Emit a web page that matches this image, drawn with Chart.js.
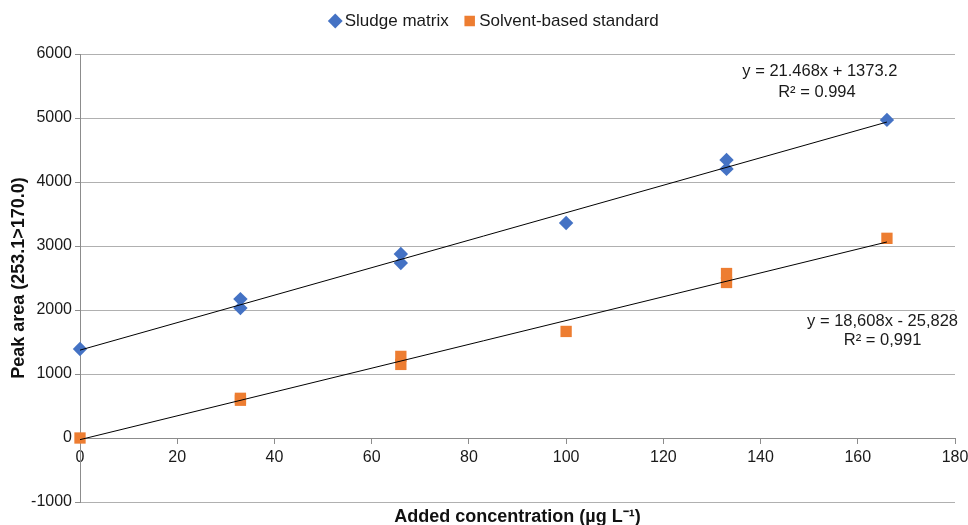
<!DOCTYPE html>
<html>
<head>
<meta charset="utf-8">
<script src="https://cdn.jsdelivr.net/npm/chart.js@4/dist/chart.umd.min.js"></script>
<style>
  html, body { margin: 0; padding: 0; background: #ffffff; }
  canvas { display: block; }
</style>
</head>
<body>
<canvas id="chart" width="968" height="525"></canvas>
<script>
// ---- data ----
const seriesNames = ['Sludge matrix', 'Solvent-based standard'];
const sludgeX   = [0, 33, 33, 66, 66, 100, 133, 133, 166];
const sludgeY   = [1390, 2170, 2030, 2875, 2735, 3360, 4345, 4205, 4970];
const solventX  = [0, 33, 33, 66, 66, 100, 133, 133, 166];
const solventY  = [0, 620, 590, 1275, 1150, 1665, 2570, 2430, 3120];
const trendX        = [0, 166];
const sludgeTrendY  = [1373.2, 4937.0];
const solventTrendY = [-25.8, 3063.1];
const xRange = [0, 180], xStep = 20;
const yRange = [-1000, 6000], yStep = 1000;
const sludgeEquation  = ['y = 21.468x + 1373.2', 'R² = 0.994'];
const solventEquation = ['y = 18,608x - 25,828', 'R² = 0,991'];
const xTitle = 'Added concentration (µg L⁻¹)';
const yTitle = 'Peak area (253.1>170.0)';

const FONT = '"Liberation Sans", Arial, Helvetica, sans-serif';
const toPts = (xs, ys) => xs.map((x, i) => ({ x: x, y: ys[i] }));
const plainNumber = (v) => String(v);

// equation labels, anchored in data coordinates
const eqPlugin = {
  id: 'equations',
  afterDatasetsDraw(chart, args, opts) {
    const { ctx } = chart;
    const xs = chart.scales.x, ys = chart.scales.y;
    ctx.save();
    ctx.font = opts.size + 'px ' + FONT;
    ctx.fillStyle = '#1a1a1a';
    ctx.textAlign = 'center';
    ctx.textBaseline = 'middle';
    opts.items.forEach(it => {
      ctx.fillText(it.text, xs.getPixelForValue(it.x), ys.getPixelForValue(it.y));
    });
    ctx.restore();
  }
};

new Chart(document.getElementById('chart'), {
  type: 'scatter',
  data: {
    datasets: [
      { label: 'trend1', data: toPts(trendX, sludgeTrendY), showLine: true,
        borderColor: '#000000', borderWidth: 1, pointRadius: 0, fill: false, order: 0, clip: false },
      { label: 'trend2', data: toPts(trendX, solventTrendY), showLine: true,
        borderColor: '#000000', borderWidth: 1, pointRadius: 0, fill: false, order: 0, clip: false },
      { label: seriesNames[0], data: toPts(sludgeX, sludgeY),
        pointStyle: 'rectRot', pointRadius: 7.2, borderWidth: 0, clip: false,
        backgroundColor: '#4472C4', borderColor: '#4472C4', order: 1 },
      { label: seriesNames[1], data: toPts(solventX, solventY),
        pointStyle: 'rect', pointRadius: 8, borderWidth: 0, clip: false,
        backgroundColor: '#ED7D31', borderColor: '#ED7D31', order: 2 }
    ]
  },
  options: {
    responsive: false,
    animation: false,
    devicePixelRatio: 1,
    layout: { padding: { top: -7.5, left: 0, right: -25, bottom: 0 } },
    plugins: {
      tooltip: { enabled: false },
      legend: {
        position: 'top',
        labels: {
          filter: (item) => item.datasetIndex >= 2,
          usePointStyle: true,
          boxWidth: 2,
          boxHeight: 10.5,
          padding: 20,
          color: '#1a1a1a',
          font: { family: FONT, size: 17 }
        }
      },
      equations: {
        size: 16.5,
        items: [
          { text: sludgeEquation[0],  x: 152.2, y: 5734 },
          { text: sludgeEquation[1],  x: 151.6, y: 5398 },
          { text: solventEquation[0], x: 165.1, y: 1820 },
          { text: solventEquation[1], x: 165.1, y: 1523 }
        ]
      }
    },
    scales: {
      x: {
        type: 'linear', axis: 'x', position: 'bottom',
        min: xRange[0], max: xRange[1],
        ticks: { display: false },
        grid: { display: false, drawTicks: false },
        border: { display: false },
        title: { display: true, text: xTitle, color: '#111111',
                 font: { family: FONT, size: 18, weight: 'bold', lineHeight: 1 },
                 padding: { top: 0, bottom: -1 } },
        afterFit: (s) => { s.height = 23; }
      },
      x2: {
        type: 'linear', axis: 'x', position: { y: 0 },
        min: xRange[0], max: xRange[1],
        ticks: { stepSize: xStep, color: '#1a1a1a', padding: 5, callback: plainNumber,
                 font: { family: FONT, size: 16 } },
        grid: { drawOnChartArea: false, tickLength: 5, color: '#8c8c8c' },
        border: { color: '#8c8c8c' },
        afterFit: (s) => { s.height = 0; s.paddingRight = 13; s.paddingLeft = 0; }
      },
      xt: {
        type: 'linear', axis: 'x', position: 'top', display: true,
        ticks: { display: false },
        grid: { display: false, drawTicks: false },
        border: { display: false },
        afterFit: (s) => { s.height = 14.5; }
      },
      y: {
        type: 'linear', axis: 'y', position: 'left',
        min: yRange[0], max: yRange[1],
        ticks: { stepSize: yStep, color: '#1a1a1a', padding: 3, callback: plainNumber,
                 font: { family: FONT, size: 16 } },
        grid: { color: '#b0b0b0', tickLength: 5, tickColor: '#8c8c8c' },
        border: { color: '#8c8c8c' },
        title: { display: true, text: yTitle, color: '#111111',
                 font: { family: FONT, size: 18, weight: 'bold', lineHeight: 1 },
                 padding: { top: 10, bottom: 0 } },
        afterFit: (s) => { s.width = 80; }
      }
    }
  },
  plugins: [eqPlugin]
});
</script>
</body>
</html>
